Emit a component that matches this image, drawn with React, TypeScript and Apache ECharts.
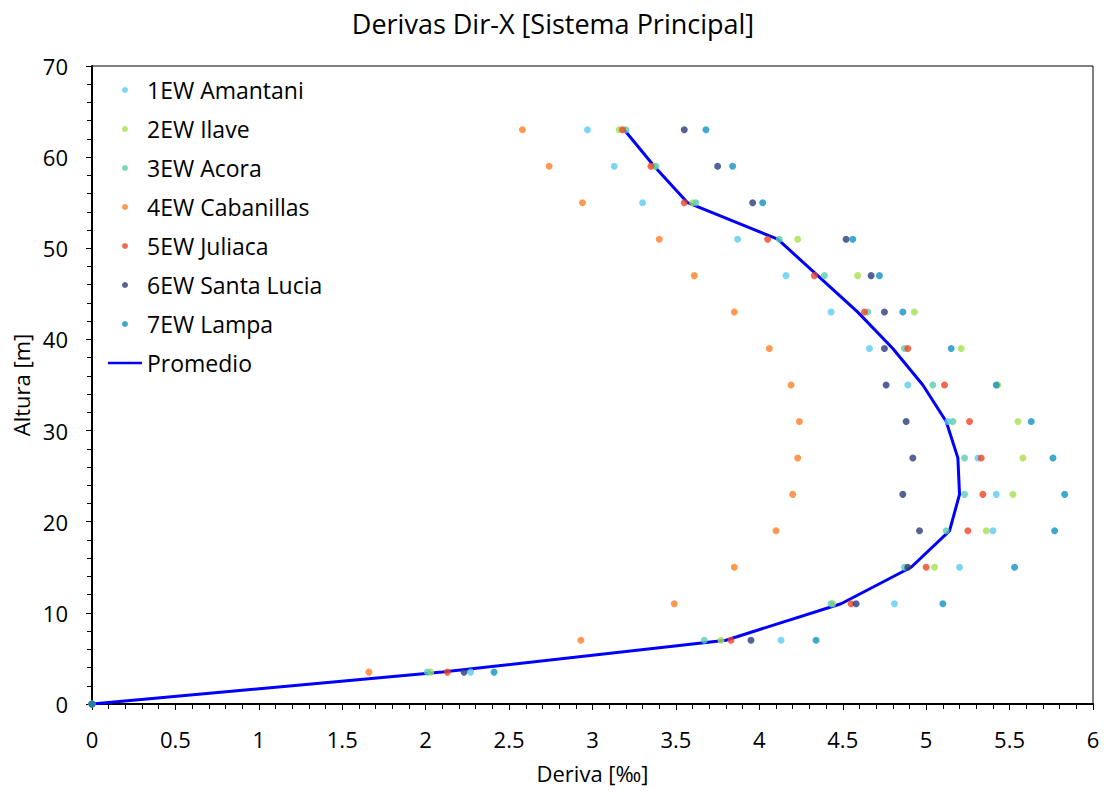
import React, { useEffect, useRef } from "react";
import * as echarts from "echarts";

const heights = [0, 3.5, 7, 11, 15, 19, 23, 27, 31, 35, 39, 43, 47, 51, 55, 59, 63];

const amantani = [0, 2.27, 4.13, 4.81, 5.2, 5.4, 5.42, 5.31, 5.13, 4.89, 4.66, 4.43, 4.16, 3.87, 3.3, 3.13, 2.97];
const ilave = [0, 2.03, 3.77, 4.44, 5.05, 5.36, 5.52, 5.58, 5.55, 5.43, 5.21, 4.93, 4.59, 4.23, 3.6, 3.37, 3.16];
const acora = [0, 2.01, 3.67, 4.43, 4.87, 5.12, 5.23, 5.23, 5.16, 5.04, 4.87, 4.65, 4.39, 4.12, 3.62, 3.38, 3.2];
const cabanillas = [0, 1.66, 2.93, 3.49, 3.85, 4.1, 4.2, 4.23, 4.24, 4.19, 4.06, 3.85, 3.61, 3.4, 2.94, 2.74, 2.58];
const juliaca = [0, 2.13, 3.83, 4.55, 5.0, 5.25, 5.34, 5.33, 5.26, 5.11, 4.89, 4.63, 4.33, 4.05, 3.55, 3.35, 3.18];
const santaLucia = [0, 2.23, 3.95, 4.58, 4.89, 4.96, 4.86, 4.92, 4.88, 4.76, 4.75, 4.75, 4.67, 4.52, 3.96, 3.75, 3.55];
const lampa = [0, 2.41, 4.34, 5.1, 5.53, 5.77, 5.83, 5.76, 5.63, 5.42, 5.15, 4.86, 4.72, 4.56, 4.02, 3.84, 3.68];
const promedio = [0, 2.1, 3.8, 4.49, 4.91, 5.14, 5.2, 5.19, 5.12, 4.98, 4.8, 4.59, 4.35, 4.11, 3.57, 3.37, 3.19];

const scatterSeries = [
  { name: "1EW Amantani", values: amantani, color: "#5DCBF3" },
  { name: "2EW Ilave", values: ilave, color: "#A6E04E" },
  { name: "3EW Acora", values: acora, color: "#5CCDB0" },
  { name: "4EW Cabanillas", values: cabanillas, color: "#FF7F27" },
  { name: "5EW Juliaca", values: juliaca, color: "#EE4524" },
  { name: "6EW Santa Lucia", values: santaLucia, color: "#2A3B7C" },
  { name: "7EW Lampa", values: lampa, color: "#1191C1" },
];

const FONT = "'Open Sans', sans-serif";

export default function App() {
  const ref = useRef<HTMLDivElement>(null);
  useEffect(() => {
    const chart = echarts.init(ref.current!, undefined, { renderer: "svg" });
    const series: any[] = [
      {
        name: "Promedio",
        type: "line",
        data: promedio.map((x, i) => [x, heights[i]]),
        symbol: "none",
        showSymbol: false,
        lineStyle: { color: "#0000FF", width: 3 },
        itemStyle: { color: "#0000FF" },
        z: 1,
      },
      ...scatterSeries.map((s) => ({
        name: s.name,
        type: "scatter",
        data: s.values.map((x, i) => [x, heights[i]]),
        symbol: "circle",
        symbolSize: 7,
        itemStyle: { color: s.color },
        z: 3,
      })),
    ];
    chart.setOption({
      animation: false,
      backgroundColor: "#fff",
      title: {
        text: "Derivas Dir-X [Sistema Principal]",
        left: "center",
        top: 5,
        textStyle: { fontFamily: FONT, fontSize: 27, fontWeight: "normal", color: "#000" },
      },
      legend: {
        orient: "vertical",
        left: 108,
        top: 77,
        padding: 0,
        itemWidth: 34,
        itemHeight: 6,
        itemGap: 13,
        data: [
          ...scatterSeries.map((s) => ({ name: s.name, icon: "circle" })),
          { name: "Promedio", icon: "path://M0 0H34V2.4H0Z" },
        ],
        textStyle: { fontFamily: FONT, fontSize: 23, color: "#000", lineHeight: 26 },
      },
      grid: {
        left: 92,
        right: 13,
        top: 66,
        bottom: 87,
        show: true,
        borderColor: "#000",
        borderWidth: 1,
        containLabel: false,
      },
      xAxis: {
        type: "value",
        min: 0,
        max: 6,
        interval: 0.5,
        name: "Deriva [‰]",
        nameLocation: "middle",
        nameGap: 58,
        nameTextStyle: { fontFamily: FONT, fontSize: 22, color: "#000" },
        axisLine: { show: true, lineStyle: { color: "#000", width: 2 } },
        axisTick: { show: true, length: 6, lineStyle: { color: "#000" } },
        minorTick: { show: true, splitNumber: 5, length: 5, lineStyle: { color: "#000" } },
        splitLine: { show: false },
        axisLabel: { fontFamily: FONT, fontSize: 22, color: "#000", margin: 24 },
      },
      yAxis: {
        type: "value",
        min: 0,
        max: 70,
        interval: 10,
        name: "Altura [m]",
        nameLocation: "middle",
        nameGap: 57,
        nameTextStyle: { fontFamily: FONT, fontSize: 22, color: "#000" },
        axisLine: { show: true, lineStyle: { color: "#000", width: 2 } },
        axisTick: { show: true, length: 6, lineStyle: { color: "#000" } },
        minorTick: { show: true, splitNumber: 5, length: 5, lineStyle: { color: "#000" } },
        splitLine: { show: false },
        axisLabel: { fontFamily: FONT, fontSize: 22, color: "#000", margin: 24 },
      },
      series,
    });
    return () => chart.dispose();
  }, []);
  return <div ref={ref} style={{ width: 1106, height: 791, position: "absolute", left: 0, top: 0 }} />;
}
